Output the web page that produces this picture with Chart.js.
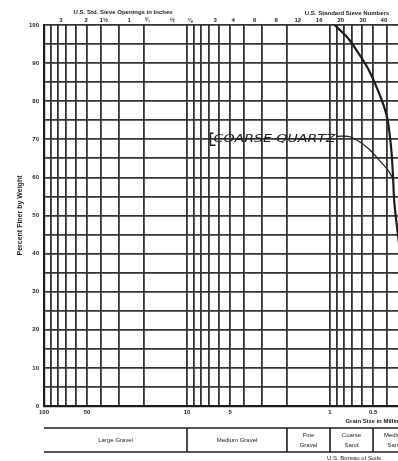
<!DOCTYPE html>
<html lang="en">
<head>
<meta charset="UTF-8">
<title>Gradation curve - coarse quartz</title>
<script src="https://cdn.jsdelivr.net/npm/chart.js"></script>
<style>
    body { margin: 0; background: #fff; overflow: hidden; }
    #wrap { width: 476px; height: 461px; }
</style>
</head>
<body>
<div id="wrap"><canvas id="gradChart" width="476" height="461"></canvas></div>
<script>
// gradation curve (grain size in mm, percent finer by weight)
const grainSize = [0.93, 0.75, 0.64, 0.545, 0.48, 0.43, 0.398, 0.382, 0.37, 0.361, 0.355, 0.34, 0.31];
const percentFiner = [100, 96.6, 92.9, 88.7, 84.3, 79.8, 75.6, 71.1, 65.9, 58.8, 53.5, 47, 35];

// hand drawn leader from the label to the curve
const leaderSize = [0.9, 0.715, 0.545, 0.44, 0.385, 0.362];
const leaderPct = [70.8, 70.6, 67.7, 64.0, 61.4, 59.5];
const curveLabel = 'COARSE QUARTZ';

// axis labels
const mmTickLabels = [100, 50, 10, 5, 1, 0.5];
const percentLabels = [0, 10, 20, 30, 40, 50, 60, 70, 80, 90, 100];
const sieveOpenings = [76.2, 50.8, 38.1, 25.4, 19.05, 12.7, 9.525, 6.35, 4.76, 3.36, 2.38, 1.68, 1.19, 0.84, 0.59, 0.42, 0.297, 0.25];
const sieveLabels = ['3', '2', '1½', '1', '¾', '½', '⅜', '3', '4', '6', '8', '12', '16', '20', '30', '40', '50', '60'];

// soil classes along the bottom
const classNames = ['Large Gravel', 'Medium Gravel', 'Fine Gravel', 'Coarse Sand', 'Medium Sand', 'Fine Sand'];
const classLimits = [100, 10, 2, 1, 0.5, 0.25, 0.1];

const ink = '#1c1c1c';
const gridInk = '#333';

// log grid 1..9 per decade, 5% steps in y
const xGrid = [];
for (let k = 1; k >= -1; k--) {
    for (let m = 10; m >= 1; m--) {
        const v = Number((m * Math.pow(10, k)).toPrecision(3));
        if (!xGrid.includes(v)) xGrid.push(v);
    }
}
const yGrid = [];
for (let p = 0; p <= 100; p += 5) yGrid.push(p);

const notes = {
    id: 'notes',
    afterDraw(chart) {
        const { ctx, chartArea: a, scales: { x, y } } = chart;
        ctx.save();
        ctx.fillStyle = ink;
        ctx.strokeStyle = ink;
        ctx.textBaseline = 'middle';

        // titles of the top scales and bottom scale
        ctx.font = 'bold 6px "Liberation Sans"';
        ctx.textAlign = 'center';
        ctx.fillText('U.S. Std. Sieve Openings in Inches', x.getPixelForValue(28), 12);
        ctx.textAlign = 'left';
        ctx.fillText('U.S. Standard Sieve Numbers', x.getPixelForValue(1.5), 13);
        ctx.fillText('Grain Size in Millimeters', x.getPixelForValue(0.78), 421);

        // curve label
        const lx = x.getPixelForValue(leaderSize[0]) - 1;
        const ly = y.getPixelForValue(leaderPct[0]) + 3;
        ctx.font = 'italic 11px "DejaVu Sans"';
        const w = ctx.measureText(curveLabel).width;
        ctx.save();
        ctx.translate(lx, ly);
        ctx.scale(122 / w, 1);
        ctx.textAlign = 'right';
        ctx.fillText(curveLabel, 0, 0);
        ctx.restore();
        ctx.lineWidth = 1.3;
        ctx.beginPath();
        ctx.moveTo(lx - 122, ly - 6);
        ctx.lineTo(lx - 125, ly - 6);
        ctx.lineTo(lx - 125, ly + 6);
        ctx.lineTo(lx - 120, ly + 6);
        ctx.stroke();

        // classification strip
        const top = 428, bot = 452;
        ctx.lineWidth = 1.6;
        ctx.beginPath();
        ctx.moveTo(a.left, top); ctx.lineTo(a.right, top);
        ctx.moveTo(a.left, bot); ctx.lineTo(a.right, bot);
        for (let i = 1; i < classLimits.length - 1; i++) {
            const px = x.getPixelForValue(classLimits[i]);
            ctx.moveTo(px, top); ctx.lineTo(px, bot);
        }
        ctx.stroke();
        ctx.font = '6px "Liberation Sans"';
        ctx.textAlign = 'center';
        classNames.forEach((name, i) => {
            const p0 = x.getPixelForValue(classLimits[i]);
            const p1 = x.getPixelForValue(classLimits[i + 1]);
            const cx = (p0 + p1) / 2;
            if (p1 - p0 < 60) {
                const parts = name.split(' ');
                ctx.fillText(parts[0], cx, 435);
                ctx.fillText(parts[1], cx, 445);
            } else {
                ctx.fillText(name, cx, 440);
            }
        });
        ctx.textAlign = 'left';
        ctx.fillText('U.S. Bureau of Soils', x.getPixelForValue(1.05), 458);
        ctx.restore();
    }
};

new Chart(document.getElementById('gradChart'), {
    type: 'scatter',
    data: {
        datasets: [{
            label: curveLabel,
            data: grainSize.map((s, i) => ({ x: s, y: percentFiner[i] })),
            showLine: true,
            borderColor: ink,
            borderWidth: 2.2,
            pointRadius: 0,
            tension: 0.35
        }, {
            label: 'leader',
            data: leaderSize.map((s, i) => ({ x: s, y: leaderPct[i] })),
            showLine: true,
            borderColor: ink,
            borderWidth: 1.2,
            pointRadius: 0,
            tension: 0.35
        }]
    },
    options: {
        responsive: false,
        animation: false,
        layout: { padding: 0 },
        plugins: { legend: { display: false }, tooltip: { enabled: false } },
        scales: {
            x: {
                type: 'logarithmic',
                reverse: true,
                min: 0.1,
                max: 100,
                afterBuildTicks: s => { s.ticks = xGrid.map(v => ({ value: v })); },
                afterFit: s => { s.height = 55; },
                grid: { color: gridInk, lineWidth: 1.8, drawTicks: false },
                border: { color: ink, width: 2.2 },
                ticks: {
                    autoSkip: false,
                    maxRotation: 0,
                    padding: 3,
                    color: ink,
                    font: { size: 6, weight: 'bold', family: 'Liberation Sans' },
                    callback: v => mmTickLabels.includes(v) ? String(v) : ''
                }
            },
            x2: {
                type: 'logarithmic',
                position: 'top',
                reverse: true,
                min: 0.1,
                max: 100,
                afterBuildTicks: s => { s.ticks = sieveOpenings.map(v => ({ value: v })); },
                afterFit: s => { s.height = 25; },
                grid: { drawOnChartArea: false, drawTicks: false },
                border: { display: false },
                ticks: {
                    autoSkip: false,
                    maxRotation: 0,
                    padding: 1,
                    color: ink,
                    font: { size: 6, weight: 'bold', family: 'Liberation Sans' },
                    callback: (v, i) => sieveLabels[i]
                }
            },
            y: {
                min: 0,
                max: 100,
                afterBuildTicks: s => { s.ticks = yGrid.map(v => ({ value: v })); },
                afterFit: s => { s.width = 44; },
                grid: { color: gridInk, lineWidth: 1.8, drawTicks: false },
                border: { color: ink, width: 2.2 },
                ticks: {
                    autoSkip: false,
                    padding: 5,
                    color: ink,
                    font: { size: 6, weight: 'bold', family: 'Liberation Sans' },
                    callback: v => percentLabels.includes(v) ? String(v) : ''
                },
                title: {
                    display: true,
                    text: 'Percent Finer by Weight',
                    color: ink,
                    font: { size: 7, weight: 'bold', family: 'Liberation Sans' },
                    padding: { top: 16, bottom: 0 }
                }
            }
        }
    },
    plugins: [notes]
});
</script>
</body>
</html>
